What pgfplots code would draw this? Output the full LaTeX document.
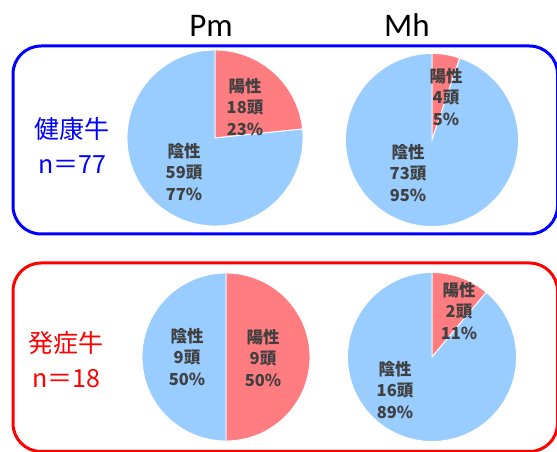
\documentclass[border=0pt]{standalone}
\usepackage{pgfplots}
\pgfplotsset{compat=1.18}
\usepackage{fontspec}
\setmainfont{Liberation Sans}
\newfontfamily\jpfont{Noto Sans CJK JP}
\newfontfamily\titlefont{Carlito}
\definecolor{posred}{HTML}{FF7C80}
\definecolor{negblue}{HTML}{99CCFF}
\definecolor{lblgray}{HTML}{404040}
\definecolor{boxblue}{HTML}{0000FF}
\definecolor{boxred}{HTML}{FF0000}
\tikzset{lbl/.style={font=\jpfont\bfseries\fontsize{16.5bp}{21.5bp}\selectfont, text=lblgray, align=center, inner sep=0pt}}
% \pie{cx}{cy}{r}{positive count}{negative count}
\newcommand{\pie}[5]{%
  \pgfmathsetmacro\pieang{90-360*#4/(#4+#5)}%
  \addplot[fill=posred, draw=white, line width=0.9bp, domain=\pieang:90, samples=120]
    ({#1+#3*cos(x)},{#2+#3*sin(x)}) -- (axis cs:#1,#2) -- cycle;
  \addplot[fill=negblue, draw=white, line width=0.9bp, domain=-270:\pieang, samples=240]
    ({#1+#3*cos(x)},{#2+#3*sin(x)}) -- (axis cs:#1,#2) -- cycle;
}
\begin{document}
\begin{tikzpicture}
\begin{axis}[
  at={(0,0)}, anchor=south west,
  scale only axis, width=557bp, height=452bp,
  xmin=0, xmax=557, ymin=0, ymax=452,
  hide axis, clip=true, clip bounding box=upper bound,
]
% frames
\draw[boxblue, line width=3bp, rounded corners=28bp] (axis cs:13,406) rectangle (axis cs:557.5,218);
\draw[boxred, line width=3bp, rounded corners=28bp] (axis cs:13,189) rectangle (axis cs:557.5,0.5);
% pies: centre x, centre y, radius, positive, negative
\pie{215}{314}{88}{18}{59}
\pie{432}{312}{86.5}{4}{73}
\pie{226}{95}{84}{9}{9}
\pie{432}{95}{84.5}{2}{16}
% titles
\node[font=\titlefont\fontsize{33bp}{36bp}\selectfont, anchor=base, inner sep=0pt] at (axis cs:211,415) {Pm};
\node[font=\titlefont\fontsize{33bp}{36bp}\selectfont, anchor=base, inner sep=0pt] at (axis cs:407,415) {Mh};
% group labels
\node[font=\jpfont\fontsize{25bp}{30bp}\selectfont, text=boxblue, inner sep=0pt] at (axis cs:72,323) {健康牛};
\node[font=\jpfont\fontsize{25bp}{30bp}\selectfont, text=boxblue, inner sep=0pt] at (axis cs:72,287) {n＝77};
\node[font=\jpfont\fontsize{25bp}{30bp}\selectfont, text=boxred, inner sep=0pt] at (axis cs:66,109) {発症牛};
\node[font=\jpfont\fontsize{25bp}{30bp}\selectfont, text=boxred, inner sep=0pt] at (axis cs:66,73) {n＝18};
% slice labels
\node[lbl] at (axis cs:245,345) {陽性\\18頭\\23\%};
\node[lbl] at (axis cs:184,280) {陰性\\59頭\\77\%};
\node[lbl] at (axis cs:446,355) {陽性\\4頭\\5\%};
\node[lbl] at (axis cs:408,279) {陰性\\73頭\\95\%};
\node[lbl] at (axis cs:187,95) {陰性\\9頭\\50\%};
\node[lbl] at (axis cs:263,94) {陽性\\9頭\\50\%};
\node[lbl] at (axis cs:459,141) {陽性\\2頭\\11\%};
\node[lbl] at (axis cs:395,62) {陰性\\16頭\\89\%};
\end{axis}
\pgfresetboundingbox
\path (current axis.south west) rectangle (current axis.north east);
\end{tikzpicture}
\end{document}
